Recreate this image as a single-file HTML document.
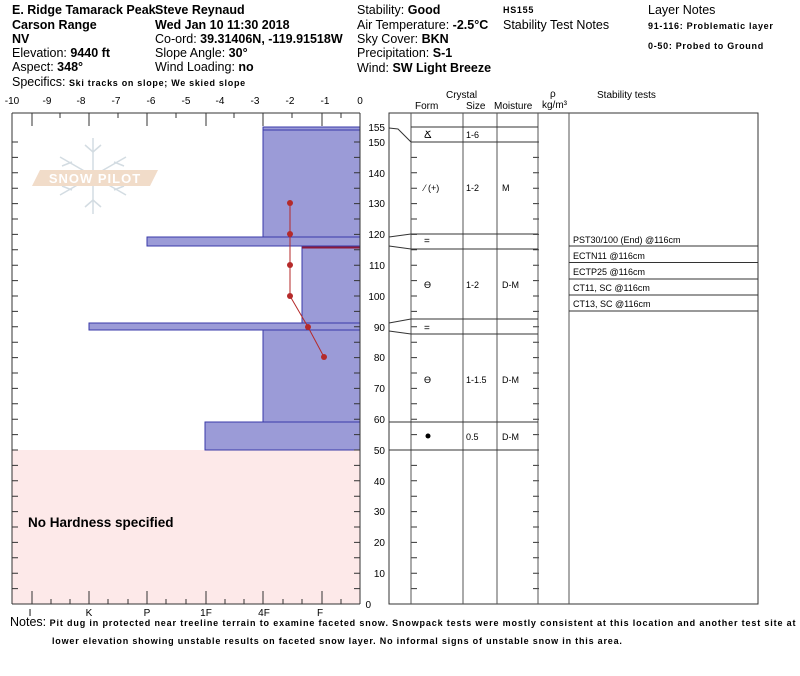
<!DOCTYPE html>
<html><head><meta charset="utf-8"><style>
body{margin:0;background:#fff;}
svg{display:block;font-family:"Liberation Sans",Arial,sans-serif;}
.h{font-size:12.5px;fill:#000}
.b{font-weight:bold}
.s{font-size:10px}
.t{font-size:9px}
.w{letter-spacing:0.7px}
</style></head><body>
<svg width="800" height="676" viewBox="0 0 800 676" xmlns="http://www.w3.org/2000/svg">
<!-- header -->
<g class="h">
<text x="12" y="14" class="b">E. Ridge Tamarack Peak</text>
<text x="155" y="14" class="b">Steve Reynaud</text>
<text x="12" y="29" class="b">Carson Range</text>
<text x="155" y="29" class="b">Wed Jan 10 11:30 2018</text>
<text x="12" y="43" class="b">NV</text>
<text x="155" y="43">Co-ord: <tspan class="b">39.31406N, -119.91518W</tspan></text>
<text x="12" y="57">Elevation: <tspan class="b">9440 ft</tspan></text>
<text x="155" y="57">Slope Angle: <tspan class="b">30°</tspan></text>
<text x="12" y="71">Aspect: <tspan class="b">348°</tspan></text>
<text x="155" y="71">Wind Loading: <tspan class="b">no</tspan></text>
<text x="12" y="86">Specifics: <tspan class="b w" style="font-size:9px">Ski tracks on slope; We skied slope</tspan></text>
<text x="357" y="14">Stability: <tspan class="b">Good</tspan></text>
<text x="357" y="29">Air Temperature: <tspan class="b">-2.5°C</tspan></text>
<text x="357" y="43">Sky Cover: <tspan class="b">BKN</tspan></text>
<text x="357" y="57">Precipitation: <tspan class="b">S-1</tspan></text>
<text x="357" y="72">Wind:  <tspan class="b">SW Light Breeze</tspan></text>
<text x="503" y="13" class="b w" style="font-size:9px">HS155</text>
<text x="503" y="29">Stability Test Notes</text>
<text x="648" y="14">Layer Notes</text>
<text x="648" y="29" class="b w" style="font-size:9px">91-116: Problematic layer</text>
<text x="648" y="49" class="b w" style="font-size:9px">0-50: Probed to Ground</text>
</g>
<!-- top temp labels -->
<g class="s" text-anchor="middle">
<text x="12" y="104">-10</text><text x="47" y="104">-9</text><text x="81" y="104">-8</text><text x="116" y="104">-7</text><text x="151" y="104">-6</text><text x="186" y="104">-5</text><text x="220" y="104">-4</text><text x="255" y="104">-3</text><text x="290" y="104">-2</text><text x="325" y="104">-1</text><text x="360" y="104">0</text>
</g>
<!-- pink region -->
<rect x="12" y="450" width="348" height="154" fill="#fde9e9"/>
<text x="28" y="527" class="b" style="font-size:13.5px">No Hardness specified</text>
<!-- snowpilot logo -->
<g stroke="#d3dce2" stroke-width="1.5" fill="none">
<line x1="93" y1="138" x2="93" y2="214"/>
<line x1="60" y1="157" x2="126" y2="195"/>
<line x1="60" y1="195" x2="126" y2="157"/>
<path d="M85 145 L93 152 L101 145 M85 207 L93 200 L101 207 M62 166 L72 162 M124 166 L114 162 M62 186 L72 190 M124 186 L114 190"/>
</g>
<polygon points="40,170 158,170 150,186 32,186" fill="#f1dcc9"/>
<text x="95" y="183" text-anchor="middle" style="font-size:13px;fill:#fff;font-weight:bold;letter-spacing:1px">SNOW PILOT</text>
<!-- bars -->
<g fill="#9b9bd7" stroke="#3a3aa8" stroke-width="1">
<rect x="263" y="127" width="97" height="110"/>
<line x1="263" y1="130" x2="360" y2="130"/>
<rect x="147" y="237" width="213" height="9"/>
<rect x="302" y="246" width="58" height="77"/>
<rect x="89" y="323" width="271" height="7"/>
<rect x="263" y="330" width="97" height="92"/>
<rect x="205" y="422" width="155" height="28"/>
</g>
<line x1="302" y1="247.5" x2="360" y2="247.5" stroke="#8b1a3a" stroke-width="2"/>
<!-- temp profile -->
<polyline points="290,203 290,234 290,265 290,296 308,327 324,357" fill="none" stroke="#b52a2a" stroke-width="1"/>
<g fill="#b52a2a">
<circle cx="290" cy="203" r="3"/><circle cx="290" cy="234" r="3"/><circle cx="290" cy="265" r="3"/><circle cx="290" cy="296" r="3"/><circle cx="308" cy="327" r="3"/><circle cx="324" cy="357" r="3"/>
</g>
<!-- left frame -->
<g stroke="#333" stroke-width="1" fill="none">
<line x1="12" y1="113" x2="360" y2="113"/>
<line x1="12" y1="113" x2="12" y2="604"/>
<line x1="360" y1="113" x2="360" y2="604"/>
<line x1="12" y1="604" x2="360" y2="604"/>
<path d="M32 113v13M89 113v13M147 113v13M206 113v13M263 113v13M322 113v13M60 113v5M118 113v5M176 113v5M234 113v5M292 113v5M341 113v5"/>
<path d="M32 604v-13M89 604v-13M147 604v-13M206 604v-13M263 604v-13M322 604v-13M51 604v-5M70 604v-5M108 604v-5M128 604v-5M166 604v-5M186 604v-5M225 604v-5M244 604v-5M283 604v-5M302 604v-5M341 604v-5"/>
<path id="lt" d="M12 588.6h6M12 573.2h6M12 557.8h6M12 542.4h6M12 527h6M12 511.6h6M12 496.2h6M12 480.8h6M12 465.4h6M12 450h6M12 434.6h6M12 419.2h6M12 403.8h6M12 388.4h6M12 373h6M12 357.6h6M12 342.2h6M12 326.8h6M12 311.4h6M12 296h6M12 280.6h6M12 265.2h6M12 249.8h6M12 234.4h6M12 219h6M12 203.6h6M12 188.2h6M12 172.8h6M12 157.4h6M12 142h6"/>
<use href="#lt" transform="translate(342 0)"/>
<use href="#lt" transform="translate(399 0)"/>
<use href="#lt" transform="translate(521 0)"/>
</g>
<g class="s" text-anchor="middle">
<text x="30" y="616">I</text><text x="89" y="616">K</text><text x="147" y="616">P</text><text x="206" y="616">1F</text><text x="264" y="616">4F</text><text x="320" y="616">F</text>
</g>
<!-- depth labels -->
<g class="s" text-anchor="end">
<text x="385" y="131">155</text><text x="385" y="146">150</text><text x="385" y="177">140</text><text x="385" y="207">130</text><text x="385" y="238">120</text><text x="385" y="269">110</text><text x="385" y="300">100</text><text x="385" y="331">90</text><text x="385" y="361">80</text><text x="385" y="392">70</text><text x="385" y="423">60</text><text x="385" y="454">50</text><text x="385" y="485">40</text><text x="385" y="515">30</text><text x="385" y="546">20</text><text x="385" y="577">10</text><text x="371" y="608">0</text>
</g>
<!-- right table -->
<g stroke="#333" stroke-width="1" fill="none">
<rect x="389" y="113" width="369" height="491"/>
<path d="M411 113V604M463 113V604M497 113V604M538 113V604M569 113V604" stroke="#555"/>
<path d="M411 127H538M411 142H538M411 234H538M411 249H538M411 319H538M411 334H538M411 422H538M411 450H538"/>
<path d="M389 128L398 129L411 142M389 237L411 234M389 246L411 249M389 323L411 319M389 331L411 334M389 422H411M389 450H411"/>
<path d="M569 246H758M569 262.5H758M569 279H758M569 295H758M569 311H758"/>
</g>
<g class="t">
<text x="446" y="98" style="font-size:10px">Crystal</text>
<text x="415" y="109" style="font-size:10px">Form</text>
<text x="466" y="109" style="font-size:10px">Size</text>
<text x="494" y="109" style="font-size:10px">Moisture</text>
<text x="550" y="97" style="font-size:10px">ρ</text>
<text x="542" y="108" style="font-size:10px">kg/m³</text>
<text x="597" y="98" style="font-size:10px">Stability tests</text>
<text x="424" y="138" style="font-size:10px">Ճ</text><text x="466" y="138">1-6</text>
<text x="424" y="191">⁄ (+)</text><text x="466" y="191">1-2</text><text x="502" y="191">M</text>
<text x="424" y="244" style="font-size:10px">=</text>
<text x="424" y="288">ϴ</text><text x="466" y="288">1-2</text><text x="502" y="288">D-M</text>
<text x="424" y="331" style="font-size:10px">=</text>
<text x="424" y="383">ϴ</text><text x="466" y="383">1-1.5</text><text x="502" y="383">D-M</text>
<circle cx="428" cy="436" r="2.5" fill="#000"/><text x="466" y="440">0.5</text><text x="502" y="440">D-M</text>
<text x="573" y="243">PST30/100 (End) @116cm</text>
<text x="573" y="259">ECTN11 @116cm</text>
<text x="573" y="275">ECTP25 @116cm</text>
<text x="573" y="291">CT11, SC @116cm</text>
<text x="573" y="307">CT13, SC @116cm</text>
</g>
<!-- notes -->
<text x="10" y="626" style="font-size:12.5px">Notes: <tspan class="b" style="font-size:9px;letter-spacing:0.85px">Pit dug in protected near treeline terrain to examine faceted snow.  Snowpack tests were mostly consistent at this location and another test site at</tspan></text>
<text x="52" y="644" class="b" style="font-size:9px;letter-spacing:0.8px">lower elevation showing unstable results on faceted snow layer.  No informal signs of unstable snow in this area.</text>
</svg>
</body></html>
